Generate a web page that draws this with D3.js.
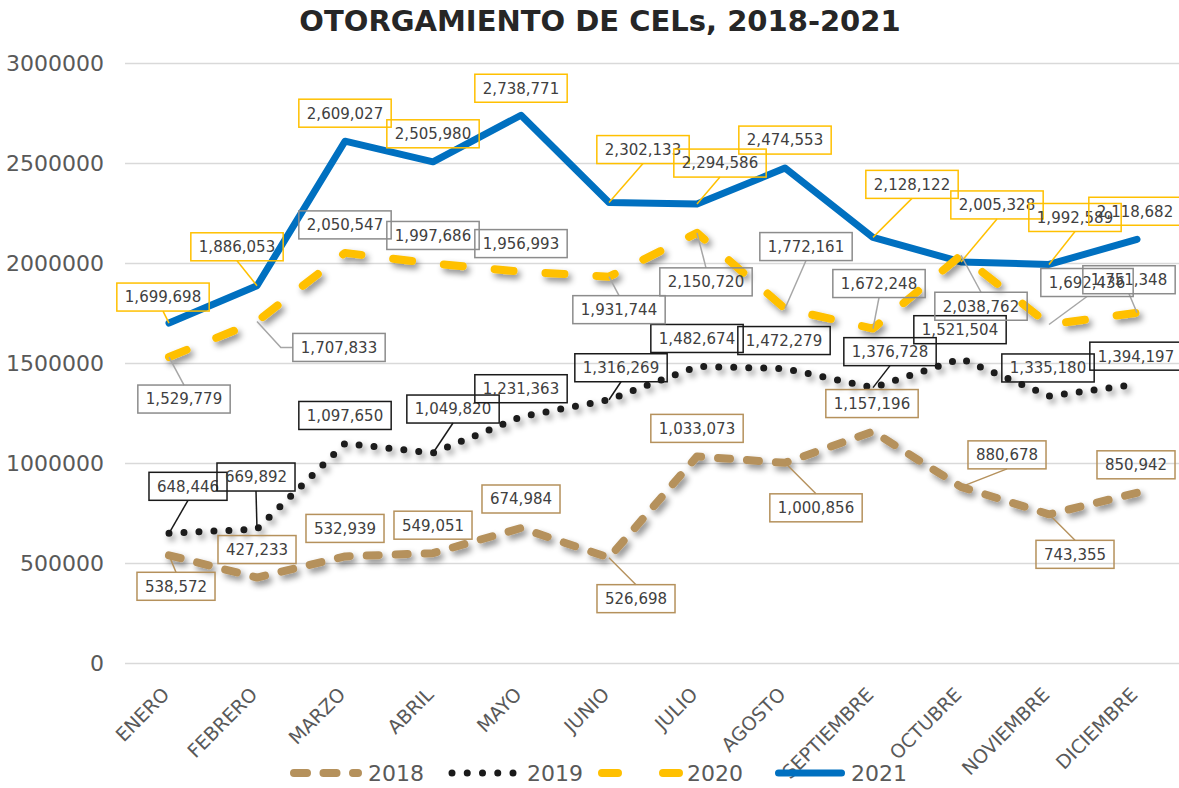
<!DOCTYPE html>
<html>
<head>
<meta charset="utf-8">
<script src="https://cdn.jsdelivr.net/npm/d3@7"></script>
<style>
  body { margin: 0; background: #fff; }
  svg { display: block; font-family: 'DejaVu Sans', sans-serif; }
</style>
</head>
<body>
<svg id="chart" width="1179" height="788"></svg>
<script>
const months = ['ENERO', 'FEBRERO', 'MARZO', 'ABRIL', 'MAYO', 'JUNIO', 'JULIO',
  'AGOSTO', 'SEPTIEMBRE', 'OCTUBRE', 'NOVIEMBRE', 'DICIEMBRE'];
const yTicks = [0, 500000, 1000000, 1500000, 2000000, 2500000, 3000000];
const years = ['2018', '2019', '2020', '2021'];

const values2018 = [538572, 427233, 532939, 549051, 674984, 526698, 1033073, 1000856, 1157196, 880678, 743355, 850942];
const values2019 = [648446, 669892, 1097650, 1049820, 1231363, 1316269, 1482674, 1472279, 1376728, 1521504, 1335180, 1394197];
const values2020 = [1529779, 1707833, 2050547, 1997686, 1956993, 1931744, 2150720, 1772161, 1672248, 2038762, 1692436, 1751348];
const values2021 = [1699698, 1886053, 2609027, 2505980, 2738771, 2302133, 2294586, 2474553, 2128122, 2005328, 1992589, 2118682];

// where each data label box sits, relative to its point (px)
const offsets2018 = [[7, 31], [0, -28], [0, -28], [0, -28], [0, -29], [27, 41], [0, -28], [31, 45], [-1, -28], [46, -32], [26, 40], [-1, -28]];
const offsets2019 = [[19, -47], [-1, -52], [0, -28], [20, -44], [0, -28], [12, -32], [0, -28], [-1, -28], [17, -36], [-1, -29], [-1, -28], [-1, -28]];
const offsets2020 = [[15, 42], [82, 26], [0, -28], [0, -28], [0, -28], [10, 33], [9, 49], [21, -62], [6, -45], [20, 51], [38, -42], [-8, -33]];
const offsets2021 = [[-6, -26], [-20, -39], [0, -28], [0, -28], [0, -27], [34, -53], [23, -41], [0, -28], [39, -53], [36, -57], [26, -47], [-2, -28]];

const series = [
  {name: years[0], values: values2018, offsets: offsets2018, color: '#b5915c', width: 8, dash: '12 17', legendDash: '13 16.5', box: '#b5915c', leader: '#b5915c', shadow: true},
  {name: years[1], values: values2019, offsets: offsets2019, color: '#1a1a1a', width: 7, dash: '0 15', legendDash: '0 15.25', box: '#1a1a1a', leader: '#1a1a1a', shadow: true},
  {name: years[2], values: values2020, offsets: offsets2020, color: '#ffc000', width: 8, dash: '19 32', legendDash: '16 45', box: '#8c8c8c', leader: '#a6a6a6', shadow: true},
  {name: years[3], values: values2021, offsets: offsets2021, color: '#0070c0', width: 7, dash: null, legendDash: null, box: '#ffc000', leader: '#ffc000', shadow: false},
];

const svg = d3.select('#chart');
const fmt = d3.format(',');

const x = d3.scaleBand().domain(months).range([125, 1181]);
const y = d3.scaleLinear().domain([0, 3000000]).range([663, 63]);
const cx = m => x(m) + x.bandwidth() / 2;

const defs = svg.append('defs');
defs.append('filter')
  .attr('id', 'shadow')
  .attr('filterUnits', 'userSpaceOnUse')
  .attr('x', 0).attr('y', 0).attr('width', 1179).attr('height', 788)
  .append('feDropShadow')
  .attr('dx', 3).attr('dy', 4)
  .attr('stdDeviation', 3)
  .attr('flood-color', '#000')
  .attr('flood-opacity', 0.45);

/* title */
svg.append('text')
  .attr('x', 600)
  .attr('y', 31)
  .attr('text-anchor', 'middle')
  .attr('font-size', 29)
  .attr('font-weight', 'bold')
  .attr('fill', '#262626')
  .text('OTORGAMIENTO DE CELs, 2018-2021');

/* y axis + grid */
const yAxis = svg.append('g')
  .attr('transform', 'translate(125,0)')
  .call(d3.axisLeft(y)
    .tickValues(yTicks)
    .tickSize(-1054)
    .tickPadding(21)
    .tickFormat(d3.format('d')));
yAxis.select('.domain').remove();
yAxis.selectAll('line').attr('stroke', '#d9d9d9').attr('stroke-width', 1.5);
yAxis.selectAll('text').attr('fill', '#595959').attr('font-size', 22).attr('font-family', 'DejaVu Sans');

/* x axis */
const xAxis = svg.append('g')
  .attr('transform', 'translate(0,663)')
  .call(d3.axisBottom(x).tickSize(0));
xAxis.select('.domain').remove();
xAxis.selectAll('text')
  .attr('y', 0)
  .attr('dy', '0.35em')
  .attr('transform', 'translate(-3,28) rotate(-45)')
  .attr('text-anchor', 'end')
  .attr('fill', '#595959')
  .attr('font-size', 19)
  .attr('font-family', 'DejaVu Sans');

/* lines */
const line = d3.line()
  .x((d, i) => cx(months[i]))
  .y(d => y(d));

svg.append('g')
  .selectAll('path')
  .data(series.slice().reverse())
  .enter()
  .append('path')
  .attr('d', d => line(d.values))
  .attr('fill', 'none')
  .attr('stroke', d => d.color)
  .attr('stroke-width', d => d.width)
  .attr('stroke-dasharray', d => d.dash)
  .attr('stroke-linecap', 'round')
  .attr('stroke-linejoin', 'round')
  .attr('filter', d => d.shadow ? 'url(#shadow)' : null);

/* data labels */
const boxH = 28;
const labels = svg.append('g').attr('font-size', 15);

series.forEach((s) => {
  s.values.forEach((v, i) => {
    const px = cx(months[i]), py = y(v);
    const [dx, dy] = s.offsets[i];
    const bx = px + dx, by = py + dy;
    const g = labels.append('g');

    const t = g.append('text')
      .attr('x', bx)
      .attr('y', by)
      .attr('dy', '0.36em')
      .attr('text-anchor', 'middle')
      .attr('fill', '#404040')
      .text(fmt(v));
    const w = t.node().getComputedTextLength() + 16;

    g.insert('rect', 'text')
      .attr('x', bx - w / 2)
      .attr('y', by - boxH / 2)
      .attr('width', w)
      .attr('height', boxH)
      .attr('fill', 'none')
      .attr('stroke', s.box)
      .attr('stroke-width', 1.5);

    // leader line only where the label was moved off its default spot
    if(Math.abs(dx) > 3 || Math.abs(dy + 28) > 3) {
      let pts;
      if(Math.abs(dx) > w / 2 + 4 && Math.abs(dy) < boxH) {
        const side = dx > 0 ? bx - w / 2 : bx + w / 2;
        const elbow = dx > 0 ? side - 12 : side + 12;
        pts = [[px, py], [elbow, by], [side, by]];
      } else {
        const edge = dy < 0 ? by + boxH / 2 : by - boxH / 2;
        pts = [[px, py], [bx, edge]];
      }
      labels.insert('path', ':first-child')
        .attr('d', d3.line()(pts))
        .attr('fill', 'none')
        .attr('stroke', s.leader)
        .attr('stroke-width', 1.5);
    }
  });
});

/* legend */
const legendX = [290, 452, 598, 775];
const swatchLen = [72, 63, 85, 70];
const textGap = [6, 12, 4, 6];
const legend = svg.append('g').attr('transform', 'translate(0,773)');
series.forEach((s, i) => {
  const lx = legendX[i], len = swatchLen[i];
  const cap = i === 1 ? 0 : s.width / 2;
  legend.append('line')
    .attr('x1', lx + cap)
    .attr('x2', lx + len - cap)
    .attr('stroke', s.color)
    .attr('stroke-width', s.width)
    .attr('stroke-dasharray', s.legendDash)
    .attr('stroke-linecap', 'round');
  legend.append('text')
    .attr('x', lx + len + textGap[i])
    .attr('dy', '0.36em')
    .attr('font-size', 22)
    .attr('fill', '#595959')
    .text(s.name);
});
</script>
</body>
</html>
